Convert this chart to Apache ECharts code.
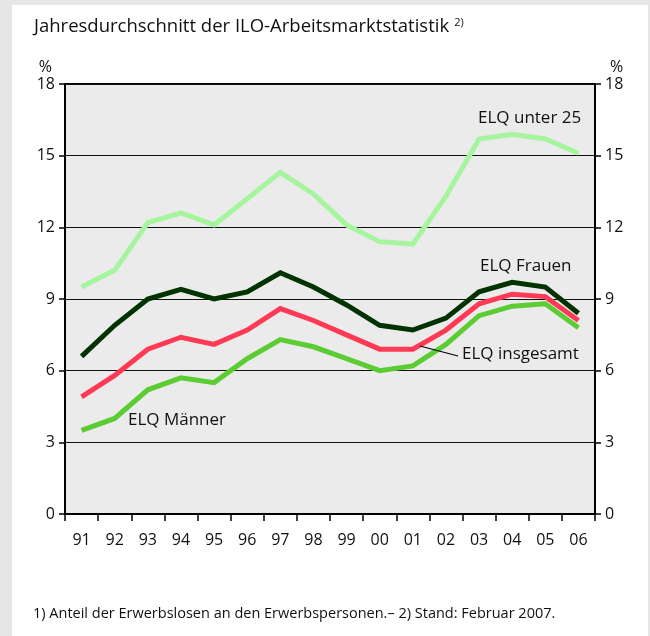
<!DOCTYPE html>
<html>
<head>
<meta charset="utf-8">
<script src="https://cdn.jsdelivr.net/npm/echarts@6/dist/echarts.min.js"></script>
<style>
html,body{margin:0;padding:0;background:#e6e6e6;}
#panel{position:absolute;left:12px;top:5px;width:636px;height:631px;background:#ffffff;}
#chart{position:absolute;left:0;top:0;width:650px;height:636px;}
</style>
</head>
<body>
<div id="panel"></div>
<div id="chart"></div>
<script>
const years = ['91','92','93','94','95','96','97','98','99','00','01','02','03','04','05','06'];
const yTicks = [0, 3, 6, 9, 12, 15, 18];
const unter25 = [9.5, 10.2, 12.2, 12.6, 12.1, 13.2, 14.3, 13.4, 12.1, 11.4, 11.3, 13.3, 15.7, 15.9, 15.7, 15.1];
const frauen = [6.6, 7.9, 9.0, 9.4, 9.0, 9.3, 10.1, 9.5, 8.75, 7.9, 7.7, 8.2, 9.3, 9.7, 9.5, 8.4];
const insgesamt = [4.9, 5.8, 6.9, 7.4, 7.1, 7.7, 8.6, 8.1, 7.5, 6.9, 6.9, 7.7, 8.8, 9.2, 9.1, 8.1];
const maenner = [3.5, 4.0, 5.2, 5.7, 5.5, 6.5, 7.3, 7.0, 6.5, 6.0, 6.2, 7.1, 8.3, 8.7, 8.8, 7.8];
const seriesNames = ['ELQ unter 25', 'ELQ Frauen', 'ELQ insgesamt', 'ELQ Männer'];
const titleText = 'Jahresdurchschnitt der ILO-Arbeitsmarktstatistik';
const footnote = '1) Anteil der Erwerbslosen an den Erwerbspersonen.– 2) Stand: Februar 2007.';

const FONT = "'Open Sans', 'Noto Sans', sans-serif";
const chart = echarts.init(document.getElementById('chart'), null, {renderer: 'canvas'});

function yAxisDef(pos) {
  const left = pos === 'left';
  return {
    type: 'value', position: pos, min: yTicks[0], max: yTicks[yTicks.length - 1], interval: 3,
    name: '%', nameLocation: 'end', nameGap: 9,
    nameTextStyle: {color: '#111', fontSize: 16, fontFamily: FONT,
      align: left ? 'right' : 'left', padding: left ? [0, 13, 0, 0] : [0, 0, 0, 15]},
    axisLine: {show: true, onZero: false, lineStyle: {color: '#000', width: 2}},
    axisTick: {show: true, length: 6, lineStyle: {color: '#000', width: 1.5}},
    axisLabel: {color: '#111', fontSize: 16, fontFamily: FONT, margin: 10},
    splitLine: {show: left, lineStyle: {color: '#111', width: 1.2}}
  };
}

const colors = ['#a6f59e', '#003300', '#ff3a55', '#5ccc33'];
const dataArr = [unter25, frauen, insgesamt, maenner];

chart.setOption({
  animation: false,
  grid: {left: 65, right: 55, top: 84, bottom: 122, show: true, backgroundColor: '#ebebeb', borderColor: '#000', borderWidth: 2},
  xAxis: {
    type: 'category', data: years, boundaryGap: true,
    axisLine: {lineStyle: {color: '#000', width: 2}},
    axisTick: {show: true, length: 7, lineStyle: {color: '#000', width: 1.5}},
    axisLabel: {color: '#111', fontSize: 16, fontFamily: FONT, margin: 18}
  },
  yAxis: [yAxisDef('left'), yAxisDef('right')],
  title: {
    text: '{m|' + titleText + '} {s|2)}', left: 29, top: 12,
    textStyle: {rich: {
      m: {fontSize: 18.5, fontFamily: FONT, color: '#111', fontWeight: 'normal'},
      s: {fontSize: 11, fontFamily: FONT, color: '#111', fontWeight: 'normal', verticalAlign: 'top', padding: [0, 0, 8, 0]}
    }}
  },
  series: dataArr.map((d, i) => ({
    name: seriesNames[i], type: 'line', data: d, symbol: 'none',
    lineStyle: {color: colors[i], width: 5, join: 'miter'}, z: 3 + i
  })),
  graphic: [
    {type: 'text', left: 478, top: 110, style: {text: seriesNames[0], fontSize: 17, fontFamily: FONT, fill: '#111'}},
    {type: 'text', left: 480, top: 258, style: {text: seriesNames[1], fontSize: 17, fontFamily: FONT, fill: '#111'}},
    {type: 'text', left: 462, top: 346, style: {text: seriesNames[2], fontSize: 17, fontFamily: FONT, fill: '#111'}},
    {type: 'text', left: 128, top: 412, style: {text: seriesNames[3], fontSize: 17, fontFamily: FONT, fill: '#111'}},
    {type: 'line', shape: {x1: 420, y1: 346, x2: 458, y2: 356}, style: {stroke: '#000', lineWidth: 1.2}, z: 10},
    {type: 'text', left: 33, top: 606, style: {text: footnote, fontSize: 14.5, fontFamily: FONT, fill: '#111'}}
  ]
});
</script>
</body>
</html>
